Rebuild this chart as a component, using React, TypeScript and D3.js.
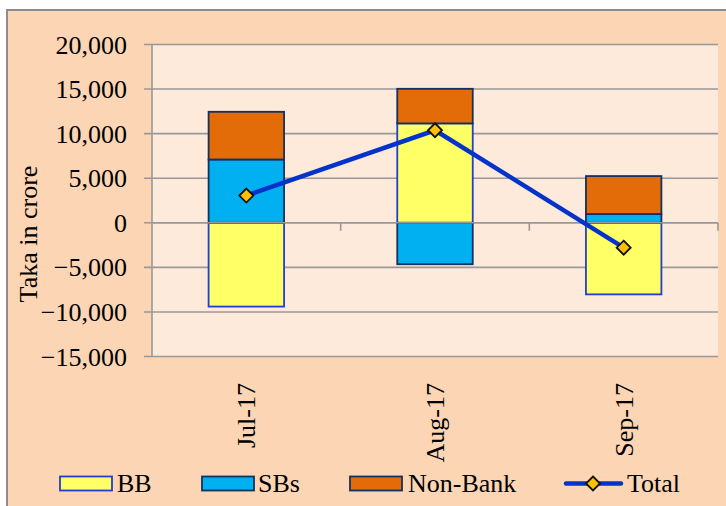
import React from "react";
import * as d3 from "d3";

const categories = ["Jul-17", "Aug-17", "Sep-17"];
const bbValues = [-9400, 11150, -8030];
const sbsValues = [7100, -4650, 980];
const nonBankValues = [5350, 3880, 4260];
const totalValues = [3050, 10380, -2790];
const yTicks = [-15000, -10000, -5000, 0, 5000, 10000, 15000, 20000];
const seriesNames = ["BB", "SBs", "Non-Bank"];
const seriesFill = ["#FFFF66", "#00B0F0", "#E36C09"];
const seriesStroke = ["#1F3FD0", "#14305F", "#14305F"];

const W = 726;
const H = 506;
const FONT = "'Liberation Serif', 'Times New Roman', serif";

export default function App() {
  const left = 152, right = 718, top = 44.5, bottom = 356.5;
  const x = d3.scaleBand<string>().domain(categories).range([left, right]).padding(0);
  const y = d3.scaleLinear().domain([-15000, 20000]).range([bottom, top]);
  const barW = x.bandwidth() * 0.4;
  const cx = (c: string) => (x(c) as number) + x.bandwidth() / 2;

  const rows = categories.map((c, i) => ({ cat: c, BB: bbValues[i], SBs: sbsValues[i], "Non-Bank": nonBankValues[i] }));
  const stacked = d3.stack<any>().keys(seriesNames).offset(d3.stackOffsetDiverging)(rows);

  const line = d3.line<number>().x((_, i) => cx(categories[i])).y((v) => y(v));
  const fmt = d3.format(",");
  const diamond = (px: number, py: number, r: number) => `M${px},${py - r}L${px + r},${py}L${px},${py + r}L${px - r},${py}Z`;

  const legendItems = [
    { name: "BB", sx: 60, tx: 117, i: 0 },
    { name: "SBs", sx: 202, tx: 258, i: 1 },
    { name: "Non-Bank", sx: 350, tx: 408, i: 2 },
  ];
  const legY = 483.5;

  return (
    <svg width={W} height={H} style={{ position: "absolute", left: 0, top: 0, background: "#fff" }} fontFamily={FONT}>
      <rect x={7} y={10} width={740} height={520} fill="#FCD5B5" stroke="#8C8C8C" strokeWidth={2} />
      <rect x={left} y={top} width={right - left} height={bottom - top} fill="#FDEADA" />
      {yTicks.map((t) => (
        <g key={t}>
          <line x1={left - 8} x2={right} y1={y(t)} y2={y(t)} stroke="#989898" strokeWidth={1.6} />
          <text x={127} y={y(t) + 9} textAnchor="end" fontSize={26} fill="#000">
            {fmt(t)}
          </text>
        </g>
      ))}
      <line x1={left} x2={left} y1={top} y2={bottom} stroke="#989898" strokeWidth={1.6} />
      {stacked.map((s, si) => (
        <g key={s.key}>
          {s.map((d, i) => (
            <rect
              key={i}
              x={cx(categories[i]) - barW / 2}
              width={barW}
              y={y(Math.max(d[0], d[1]))}
              height={Math.abs(y(d[0]) - y(d[1]))}
              fill={seriesFill[si]}
              stroke={seriesStroke[si]}
              strokeWidth={1.8}
            />
          ))}
        </g>
      ))}
      {/* category axis at zero */}
      <line x1={left} x2={right} y1={y(0)} y2={y(0)} stroke="#989898" strokeWidth={1.6} />
      {categories.map((c, i) => (
        <line key={c} x1={(x(c) as number) + x.bandwidth()} x2={(x(c) as number) + x.bandwidth()} y1={y(0)} y2={y(0) + 8} stroke="#989898" strokeWidth={1.6} />
      ))}
      <path d={line(totalValues) || ""} fill="none" stroke="#0433CC" strokeWidth={4.5} />
      {totalValues.map((v, i) => (
        <path key={i} d={diamond(cx(categories[i]), y(v), 7)} fill="#FFC000" stroke="#111" strokeWidth={1.8} />
      ))}
      {categories.map((c) => (
        <text key={c} transform={`translate(${cx(c) + 9},383) rotate(-90)`} textAnchor="end" fontSize={26} fill="#000">
          {c}
        </text>
      ))}
      <text transform="translate(37,234) rotate(-90)" textAnchor="middle" fontSize={26} fill="#000">
        Taka in crore
      </text>
      {legendItems.map((it) => (
        <g key={it.name}>
          <rect x={it.sx} y={476.5} width={52} height={14} fill={seriesFill[it.i]} stroke={seriesStroke[it.i]} strokeWidth={1.8} />
          <text x={it.tx} y={492} fontSize={26} fill="#000">{it.name}</text>
        </g>
      ))}
      <line x1={566} x2={621} y1={legY} y2={legY} stroke="#0433CC" strokeWidth={4.5} strokeLinecap="round" />
      <path d={diamond(593, legY, 7)} fill="#FFC000" stroke="#111" strokeWidth={1.8} />
      <text x={627} y={492} fontSize={26} fill="#000">Total</text>
    </svg>
  );
}
